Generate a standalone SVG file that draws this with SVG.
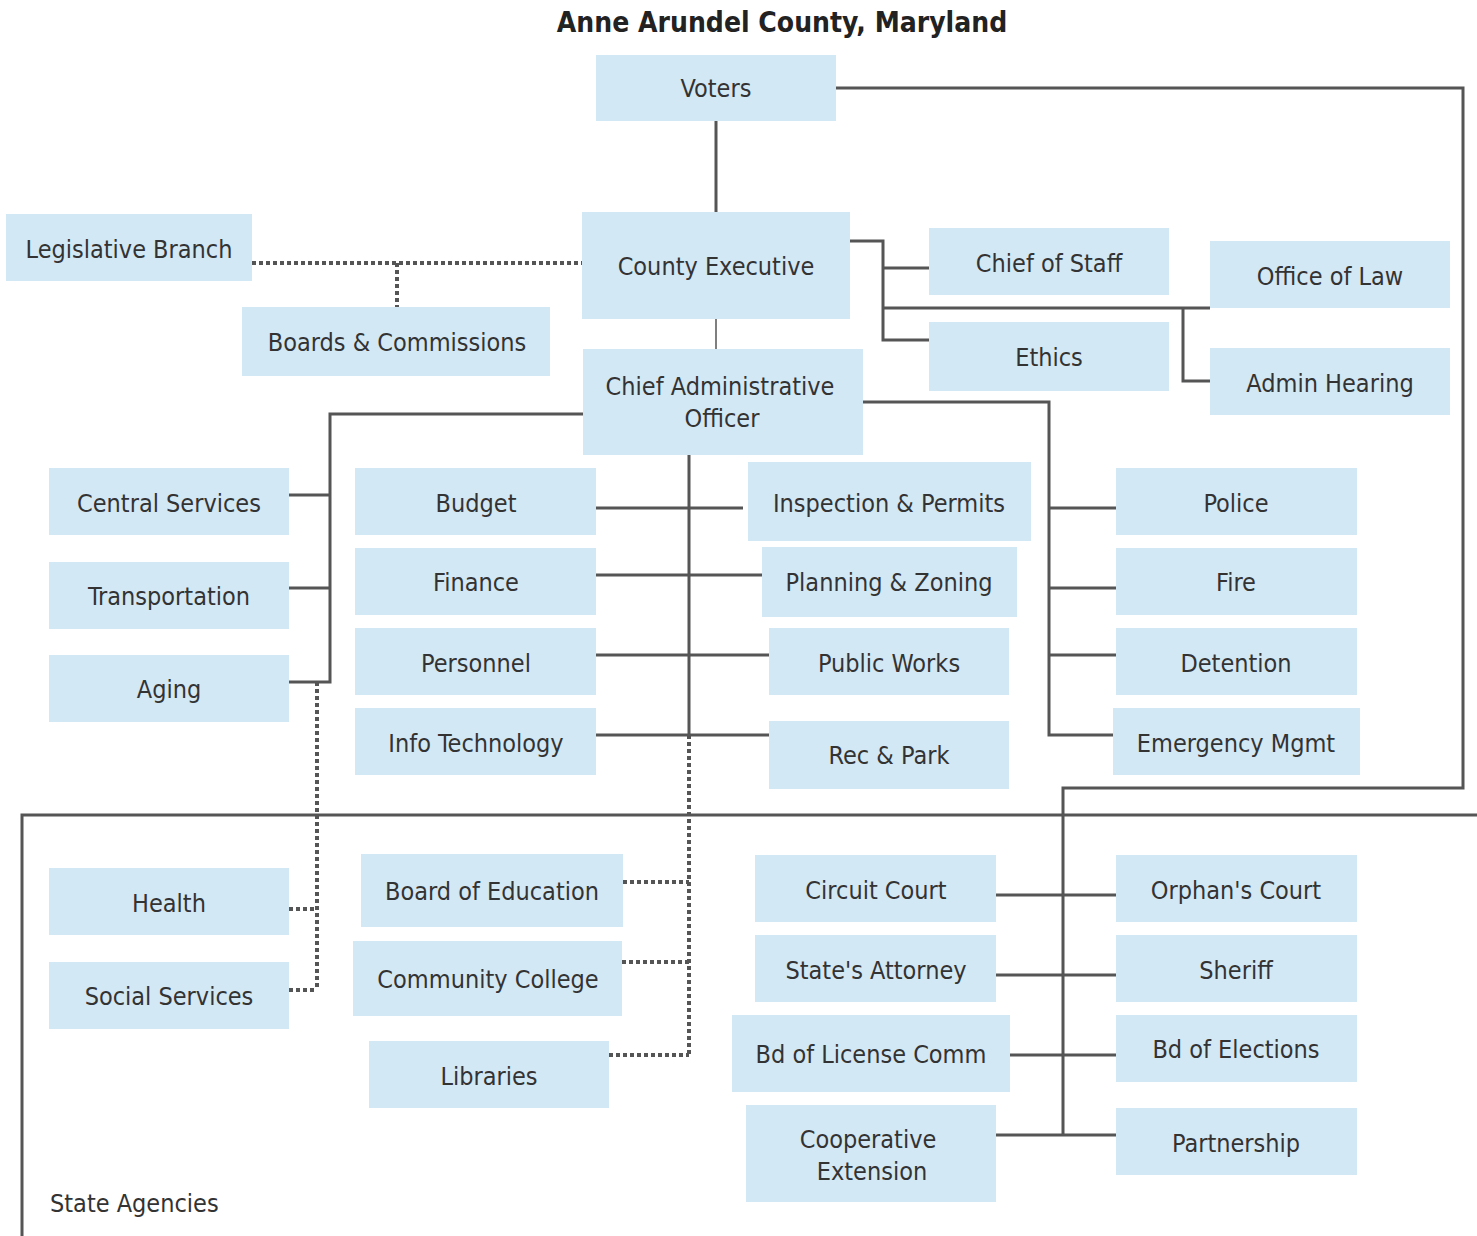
<svg xmlns="http://www.w3.org/2000/svg" width="1477" height="1236" viewBox="0 0 1477 1236">
<style>
.b{fill:#d3e8f5}
.t{font-family:"DejaVu Sans Condensed","DejaVu Sans",sans-serif;font-size:25px;fill:#333;text-anchor:middle}
.ttl{font-family:"DejaVu Sans Condensed","DejaVu Sans",sans-serif;font-size:28px;font-weight:bold;fill:#222;text-anchor:middle}
.s{fill:none;stroke:#555;stroke-width:3}
.d{fill:none;stroke:#555;stroke-width:4;stroke-dasharray:4 3}
</style>
<rect width="1477" height="1236" fill="#fff"/>
<text class="ttl" x="782" y="32">Anne Arundel County, Maryland</text>
<g id="connectors">
<path class="s" d="M716 121V212"/>
<path class="s" d="M716 319V349" style="stroke-width:1.5"/>
<path class="s" d="M836 88H1463V788H1063V1135"/>
<path class="s" d="M996 895H1116M996 975H1116M1010 1055H1116M996 1135H1116"/>
<path class="s" d="M837 241H883V340H929M883 268H929M883 308H1210M1183 308V381H1210"/>
<path class="d" d="M252 263H582M397 263V307"/>
<path class="s" d="M583 414H330V682H289M289 495H330M289 588H330"/>
<path class="d" d="M317 682V990M289 909H317M289 990H317"/>
<path class="s" d="M689 455V735"/>
<path class="d" d="M689 735V1055M623 882H689M622 962H689M609 1055H689"/>
<path class="s" d="M596 508H743M596 575H769M596 655H769M596 735H769"/>
<path class="s" d="M863 402H1049V735H1113M1049 508H1116M1049 588H1116M1049 655H1116"/>
<path class="s" d="M1477 815H22V1236"/>
</g>
<g id="voters"><rect class="b" x="596" y="55" width="240" height="66"/><text class="t" x="716" y="97">Voters</text></g>
<g id="county-executive"><rect class="b" x="582" y="212" width="268" height="107"/><text class="t" x="716" y="275">County Executive</text></g>
<g id="cao"><rect class="b" x="583" y="349" width="280" height="106"/><text class="t" x="720" y="395">Chief Administrative</text><text class="t" x="722" y="427">Officer</text></g>
<g id="legislative-branch"><rect class="b" x="6" y="214" width="246" height="67"/><text class="t" x="129" y="258">Legislative Branch</text></g>
<g id="boards-commissions"><rect class="b" x="242" y="307" width="308" height="69"/><text class="t" x="397" y="351">Boards &amp; Commissions</text></g>
<g id="chief-of-staff"><rect class="b" x="929" y="228" width="240" height="67"/><text class="t" x="1049" y="272">Chief of Staff</text></g>
<g id="ethics"><rect class="b" x="929" y="322" width="240" height="69"/><text class="t" x="1049" y="366">Ethics</text></g>
<g id="office-of-law"><rect class="b" x="1210" y="241" width="240" height="67"/><text class="t" x="1330" y="285">Office of Law</text></g>
<g id="admin-hearing"><rect class="b" x="1210" y="348" width="240" height="67"/><text class="t" x="1330" y="392">Admin Hearing</text></g>
<g id="central-services"><rect class="b" x="49" y="468" width="240" height="67"/><text class="t" x="169" y="512">Central Services</text></g>
<g id="transportation"><rect class="b" x="49" y="562" width="240" height="67"/><text class="t" x="169" y="605">Transportation</text></g>
<g id="aging"><rect class="b" x="49" y="655" width="240" height="67"/><text class="t" x="169" y="698">Aging</text></g>
<g id="budget"><rect class="b" x="355" y="468" width="241" height="67"/><text class="t" x="476" y="512">Budget</text></g>
<g id="finance"><rect class="b" x="355" y="548" width="241" height="67"/><text class="t" x="476" y="591">Finance</text></g>
<g id="personnel"><rect class="b" x="355" y="628" width="241" height="67"/><text class="t" x="476" y="672">Personnel</text></g>
<g id="info-technology"><rect class="b" x="355" y="708" width="241" height="67"/><text class="t" x="476" y="752">Info Technology</text></g>
<g id="inspection-permits"><rect class="b" x="748" y="462" width="283" height="79"/><text class="t" x="889" y="512">Inspection &amp; Permits</text></g>
<g id="planning-zoning"><rect class="b" x="762" y="547" width="255" height="70"/><text class="t" x="889" y="591">Planning &amp; Zoning</text></g>
<g id="public-works"><rect class="b" x="769" y="628" width="240" height="67"/><text class="t" x="889" y="672">Public Works</text></g>
<g id="rec-park"><rect class="b" x="769" y="721" width="240" height="68"/><text class="t" x="889" y="764">Rec &amp; Park</text></g>
<g id="police"><rect class="b" x="1116" y="468" width="241" height="67"/><text class="t" x="1236" y="512">Police</text></g>
<g id="fire"><rect class="b" x="1116" y="548" width="241" height="67"/><text class="t" x="1236" y="591">Fire</text></g>
<g id="detention"><rect class="b" x="1116" y="628" width="241" height="67"/><text class="t" x="1236" y="672">Detention</text></g>
<g id="emergency-mgmt"><rect class="b" x="1113" y="708" width="247" height="67"/><text class="t" x="1236" y="752">Emergency Mgmt</text></g>
<g id="health"><rect class="b" x="49" y="868" width="240" height="67"/><text class="t" x="169" y="912">Health</text></g>
<g id="social-services"><rect class="b" x="49" y="962" width="240" height="67"/><text class="t" x="169" y="1005">Social Services</text></g>
<g id="board-of-education"><rect class="b" x="361" y="854" width="262" height="73"/><text class="t" x="492" y="900">Board of Education</text></g>
<g id="community-college"><rect class="b" x="353" y="941" width="269" height="75"/><text class="t" x="488" y="988">Community College</text></g>
<g id="libraries"><rect class="b" x="369" y="1041" width="240" height="67"/><text class="t" x="489" y="1085">Libraries</text></g>
<g id="circuit-court"><rect class="b" x="755" y="855" width="241" height="67"/><text class="t" x="876" y="899">Circuit Court</text></g>
<g id="states-attorney"><rect class="b" x="755" y="935" width="241" height="67"/><text class="t" x="876" y="979">State's Attorney</text></g>
<g id="bd-license-comm"><rect class="b" x="732" y="1015" width="278" height="77"/><text class="t" x="871" y="1063">Bd of License Comm</text></g>
<g id="cooperative-extension"><rect class="b" x="746" y="1105" width="250" height="97"/><text class="t" x="868" y="1148">Cooperative</text><text class="t" x="872" y="1180">Extension</text></g>
<g id="orphans-court"><rect class="b" x="1116" y="855" width="241" height="67"/><text class="t" x="1236" y="899">Orphan's Court</text></g>
<g id="sheriff"><rect class="b" x="1116" y="935" width="241" height="67"/><text class="t" x="1236" y="979">Sheriff</text></g>
<g id="bd-elections"><rect class="b" x="1116" y="1015" width="241" height="67"/><text class="t" x="1236" y="1058">Bd of Elections</text></g>
<g id="partnership"><rect class="b" x="1116" y="1108" width="241" height="67"/><text class="t" x="1236" y="1152">Partnership</text></g>
<text x="50" y="1212" style="font-family:'DejaVu Sans Condensed','DejaVu Sans',sans-serif;font-size:25px;fill:#333">State Agencies</text>
</svg>
